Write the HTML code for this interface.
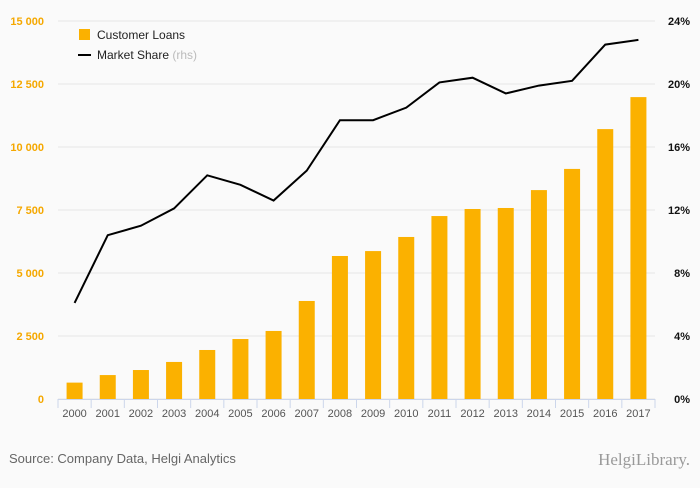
<!DOCTYPE html>
<html><head><meta charset="utf-8"><style>
body{margin:0;background:#fafafa;font-family:"Liberation Sans",sans-serif;}
#wrap{position:relative;width:700px;height:483px;background:#fafafa;}
</style></head><body>
<div id="wrap">
<svg id="chart" width="700" height="483"></svg>
</div>
<script>
const years=["2000","2001","2002","2003","2004","2005","2006","2007","2008","2009","2010","2011","2012","2013","2014","2015","2016","2017"];
const loans=[650,950,1150,1470,1945,2380,2700,3890,5675,5870,6430,7260,7540,7580,8290,9130,10710,11980];
const share=[6.1,10.4,11.0,12.1,14.2,13.6,12.6,14.5,17.7,17.7,18.5,20.1,20.4,19.4,19.9,20.2,22.5,22.8];
const leftTicks=[0,2500,5000,7500,10000,12500,15000];
const rightTicks=[0,4,8,12,16,20,24];
const NS="http://www.w3.org/2000/svg";
const svg=document.getElementById('chart');
const x0=58,x1=655,yB=399,yT=21;
const bw=(x1-x0)/years.length;
const xC=i=>x0+bw*(i+0.5);
const yL=v=>yB-(v/15000)*(yB-yT);
const yR=v=>yB-(v/24)*(yB-yT);
function mk(t,a,txt){const e=document.createElementNS(NS,t);for(const k in a)e.setAttribute(k,a[k]);if(txt!==undefined)e.textContent=txt;svg.appendChild(e);return e;}
function fmt(v){return v>=1000?Math.floor(v/1000)+" "+String(v%1000).padStart(3,"0"):String(v);}
leftTicks.forEach((v,i)=>{
 const g=mk('line',{x1:x0,x2:x1,y1:yL(v),y2:yL(v),stroke:'#e6e6e6','stroke-width':1});
 
 
 const t=mk('text',{x:44,y:yL(v)+4,'text-anchor':'end','font-size':11,fill:'#f5a800','font-weight':'bold'},fmt(v));
 
 
});
rightTicks.forEach(v=>{
 const t=mk('text',{x:690,y:yR(v)+4,'text-anchor':'end','font-size':11,fill:'#111','font-weight':'bold'},v+"%");
 
 
});
loans.forEach((v,i)=>{
 const r=mk('rect',{x:xC(i)-8,y:yL(v),width:16,height:yB-yL(v),fill:'#fbb100'});
 
 
});
const ax=mk('line',{x1:x0,x2:x1,y1:yB+0.5,y2:yB+0.5,stroke:'#ccd6eb','stroke-width':1});


for(let i=0;i<=years.length;i++){
 const tk=mk('line',{x1:x0+bw*i,x2:x0+bw*i,y1:yB,y2:yB+9,stroke:'#ccd6eb'});
 
 
}
years.forEach((y,i)=>{
 const t=mk('text',{x:xC(i),y:417,'text-anchor':'middle','font-size':11,fill:'#555'},y);
 
 
});
const pl=mk('polyline',{points:share.map((v,i)=>xC(i)+","+yR(v)).join(" "),fill:'none',stroke:'#000','stroke-width':2});


const lr=mk('rect',{x:79,y:29,width:11,height:11,fill:'#fbb100'});


const lt=mk('text',{x:97,y:39,'font-size':12,fill:'#222'},'Customer Loans');


const ll=mk('line',{x1:78,x2:91,y1:55,y2:55,stroke:'#000','stroke-width':2});


const lt2=mk('text',{x:97,y:59,'font-size':12,fill:'#222'},'Market Share ');


const ts=document.createElementNS(NS,'tspan');ts.setAttribute('fill','#bbb');ts.textContent='(rhs)';lt2.appendChild(ts);
const src=mk('text',{x:9,y:463,'font-size':13,fill:'#666'},'Source: Company Data, Helgi Analytics');


const logo=mk('text',{x:690,y:465,'text-anchor':'end','font-size':17,fill:'#999','font-family':'Liberation Serif, serif'},'HelgiLibrary.');


</script>
</body></html>
